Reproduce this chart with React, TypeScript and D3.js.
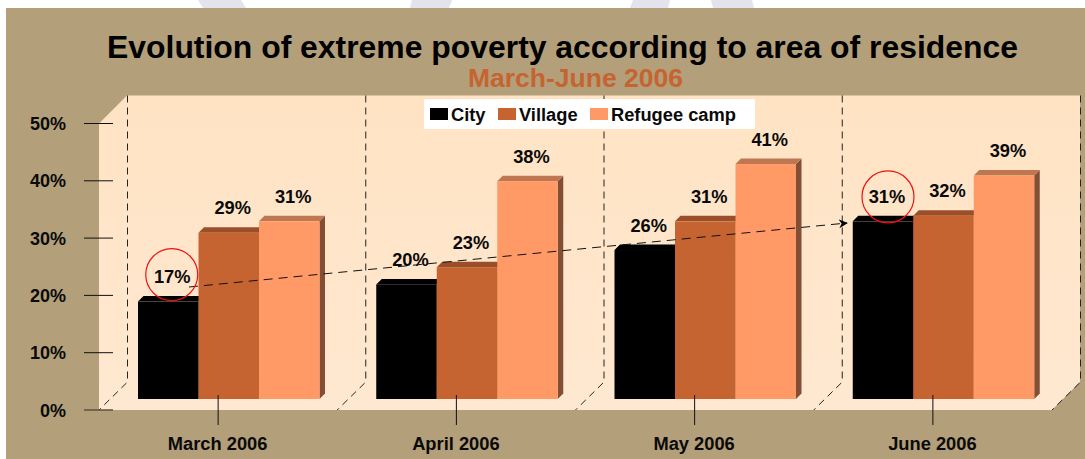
import { useEffect, useRef } from 'react';
import * as d3 from 'd3';

const months = ['March 2006', 'April 2006', 'May 2006', 'June 2006'];
const seriesNames = ['City', 'Village', 'Refugee camp'];
const city = [17, 20, 26, 31];
const village = [29, 23, 31, 32];
const refugee = [31, 38, 41, 39];
const yTicks = [0, 10, 20, 30, 40, 50];
const seriesValues = [city, village, refugee];

const frontColors = ['#000000', '#C66431', '#FF9966'];
const topColors = ['#000000', '#9A4F28', '#BF7752'];
const sideColors = ['#000000', '#7F4A2D', '#824F36'];

function App() {
  const svgRef = useRef<SVGSVGElement>(null);

  useEffect(() => {
    const svg = d3.select(svgRef.current);
    svg.selectAll('*').remove();
    svg.style('font-family', '"Liberation Sans", Arial, sans-serif').style('font-weight', 'bold');

    const left = 99, right = 1052, depth = 28, barDepth = 5.5, barShift = 11;
    const x = d3.scaleBand<string>().domain(months).range([left, right]);
    const y = d3.scaleLinear().domain([0, 50]).range([410, 123.5]);
    const xSeries = d3.scaleBand<string>().domain(seriesNames).range([39, 220.5]);
    const top = y(50), base = y(0);
    const line = d3.line();
    const defs = svg.append('defs');

    // page + watermark scraps above the panel
    [[198, 241, 203, 246], [412, 452, 410, 449], [633, 670, 630, 668], [711, 752, 713, 754]].forEach(s => {
      svg.append('path').attr('fill', '#E2E3EC')
        .attr('d', line([[s[0], 0], [s[1], 0], [s[3], 8], [s[2], 8]]) + 'Z');
    });
    svg.append('rect').attr('x', 6).attr('y', 8).attr('width', 1079).attr('height', 451).attr('fill', '#B39F79');

    // 3D walls and floor share one soft vertical fade
    const fade = defs.append('linearGradient').attr('id', 'wallFade').attr('x1', 0).attr('y1', 0).attr('x2', 0).attr('y2', 1);
    fade.append('stop').attr('offset', '0%').attr('stop-color', '#FFE3C3');
    fade.append('stop').attr('offset', '100%').attr('stop-color', '#FFE8D1');
    svg.append('path').attr('fill', 'url(#wallFade)')
      .attr('d', line([
        [left, top], [left + depth, top - depth], [right + depth, top - depth],
        [right + depth, base - depth], [right, base], [left, base],
      ]) + 'Z');

    // dashed category grid on the back wall, running out over the floor
    const gridX = [...months.map(m => x(m)!), right];
    gridX.forEach(gx => {
      svg.append('path').attr('fill', 'none').attr('stroke', '#222').attr('stroke-width', 1)
        .attr('stroke-dasharray', '7,5')
        .attr('d', line([[gx + depth + 0.5, top - depth], [gx + depth + 0.5, base - depth], [gx, base]]));
    });

    // value axis
    yTicks.forEach(t => {
      svg.append('line').attr('x1', 84).attr('x2', 113).attr('y1', y(t)).attr('y2', y(t))
        .attr('stroke', t === 0 ? '#5c5242' : '#111').attr('stroke-width', t === 0 ? 1.5 : 1);
      svg.append('text').attr('x', 66).attr('y', y(t) + 6.5)
        .attr('text-anchor', 'end').attr('font-size', 18).attr('fill', '#0a0a0a').text(`${t}%`);
    });

    // bars
    seriesNames.forEach((name, si) => {
      months.forEach((m, mi) => {
        const v = seriesValues[si][mi];
        const x0 = x(m)! + xSeries(name)!;
        const x1 = x0 + xSeries.bandwidth();
        const y0 = y(0) - barShift;
        const y1 = y(v) - barShift;
        const g = svg.append('g');
        g.append('path').attr('fill', sideColors[si])
          .attr('d', line([[x1, y0], [x1 + barDepth, y0 - barDepth], [x1 + barDepth, y1 - barDepth], [x1, y1]]) + 'Z');
        g.append('path').attr('fill', topColors[si])
          .attr('d', line([[x0, y1], [x0 + barDepth, y1 - barDepth], [x1 + barDepth, y1 - barDepth], [x1, y1]]) + 'Z');
        g.append('rect').attr('x', x0).attr('y', y1).attr('width', x1 - x0).attr('height', y0 - y1).attr('fill', frontColors[si]);
      });
    });

    // category ticks + labels
    months.forEach(m => {
      const cx = x(m)! + x.bandwidth() / 2;
      svg.append('line').attr('x1', cx).attr('x2', cx).attr('y1', 395).attr('y2', 425).attr('stroke', '#111');
      svg.append('text').attr('x', cx - 0.5).attr('y', 449.5).attr('text-anchor', 'middle')
        .attr('font-size', 18.3).attr('fill', '#0a0a0a').text(m);
    });

    // arrow between the two circled city values
    const labelX = (mi: number, si: number) => x(months[mi])! + xSeries(seriesNames[si])! + xSeries.bandwidth() / 2 + 4;
    const labelY = (v: number) => y(v) - barShift - barDepth - 13;

    defs.append('marker').attr('id', 'arrow')
      .attr('viewBox', '0 0 10 10').attr('refX', 9).attr('refY', 5)
      .attr('markerWidth', 9).attr('markerHeight', 9).attr('markerUnits', 'userSpaceOnUse').attr('orient', 'auto')
      .append('path').attr('d', 'M0,0L10,5L0,10L3,5Z').attr('fill', '#000');
    svg.append('line').attr('x1', 189).attr('y1', 287).attr('x2', 847).attr('y2', 223)
      .attr('stroke', '#111').attr('stroke-width', 1).attr('stroke-dasharray', '9,6')
      .attr('marker-end', 'url(#arrow)');

    // value labels
    seriesNames.forEach((_, si) => {
      seriesValues[si].forEach((v, mi) => {
        svg.append('text').attr('x', labelX(mi, si)).attr('y', labelY(v))
          .attr('text-anchor', 'middle').attr('font-size', 18.3).attr('fill', '#0a0a0a').text(`${v}%`);
      });
    });

    // red rings around first and last city values (hand placed in the original)
    [{ mi: 0, dx: -0.5, dy: -8.5 }, { mi: 3, dx: 1, dy: -6 }].forEach(r => {
      svg.append('circle').attr('cx', labelX(r.mi, 0) + r.dx).attr('cy', labelY(city[r.mi]) + r.dy)
        .attr('r', 26).attr('fill', 'none').attr('stroke', '#F01010').attr('stroke-width', 1.2);
    });

    // legend
    svg.append('rect').attr('x', 424).attr('y', 99).attr('width', 331).attr('height', 30).attr('fill', '#fff');
    const legendSwatchX = d3.scaleOrdinal<string, number>().domain(seriesNames).range([430, 498, 590]);
    seriesNames.forEach((name, si) => {
      const lx = legendSwatchX(name);
      svg.append('rect').attr('x', lx).attr('y', 108).attr('width', 18).attr('height', 12).attr('fill', frontColors[si]);
      svg.append('text').attr('x', lx + 21).attr('y', 120.5).attr('font-size', 18.3).attr('fill', '#0a0a0a').text(name);
    });

    // titles
    svg.append('text').attr('x', 562.5).attr('y', 58).attr('text-anchor', 'middle')
      .attr('font-size', 31.9).attr('fill', '#000')
      .text('Evolution of extreme poverty according to area of residence');
    svg.append('text').attr('x', 575.5).attr('y', 87).attr('text-anchor', 'middle')
      .attr('font-size', 26.5).attr('fill', '#C66431').text('March-June 2006');
  }, []);

  return <svg ref={svgRef} width={1085} height={459} style={{ position: 'absolute', left: 0, top: 0, display: 'block' }} />;
}

export default App;
